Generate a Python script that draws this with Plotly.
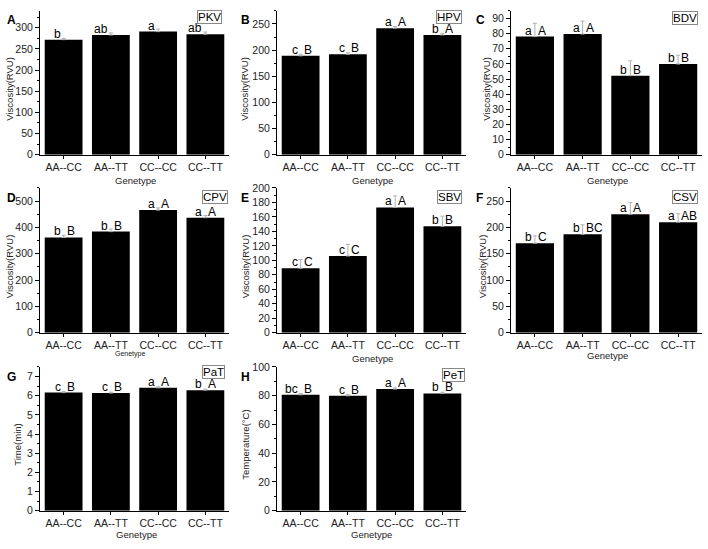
import plotly.graph_objects as go

W, H = 708, 549

genotypes = ["AA--CC", "AA--TT", "CC--CC", "CC--TT"]

pkv = [272, 283, 291, 285]
pkv_err = [3, 5, 6, 5]
pkv_low = ["b", "ab", "a", "ab"]
pkv_up = ["", "", "", ""]

hpv = [189, 192, 242, 229]
hpv_err = [3, 3, 3, 3]
hpv_low = ["c", "c", "a", "b"]
hpv_up = ["B", "B", "A", "A"]

bdv = [78, 79.7, 52.2, 59.9]
bdv_err = [8.8, 8.6, 9.8, 5.8]
bdv_low = ["a", "a", "b", "b"]
bdv_up = ["A", "A", "B", "B"]

cpv = [362, 384, 466, 437]
cpv_err = [8, 10, 8, 8]
cpv_low = ["b", "b", "a", "a"]
cpv_up = ["B", "B", "A", "A"]

sbv = [89, 106, 173, 147]
sbv_err = [12, 16, 16, 14]
sbv_low = ["c", "c", "a", "b"]
sbv_up = ["C", "C", "A", "B"]

csv = [170, 187, 225, 210]
csv_err = [14, 18, 22, 16]
csv_low = ["b", "b", "a", "a"]
csv_up = ["C", "BC", "A", "AB"]

pat = [6.16, 6.14, 6.41, 6.29]
pat_err = [0.05, 0.05, 0.05, 0.05]
pat_low = ["c", "c", "a", "b"]
pat_up = ["B", "B", "A", "A"]

pet = [80.6, 79.9, 84.6, 81.6]
pet_err = [0.8, 0.8, 0.8, 0.8]
pet_low = ["bc", "c", "a", "b"]
pet_up = ["B", "B", "A", "B"]

panels = [
    dict(letter="A", tag="PKV", v=pkv, e=pkv_err, lo=pkv_low, up=pkv_up, ytitle="Viscosity(RVU)",
         rng=340, dt=50, r=0, c=0, box=(222, 4), ytx=10, gx=(135, 178), gsize=9.5),
    dict(letter="B", tag="HPV", v=hpv, e=hpv_err, lo=hpv_low, up=hpv_up, ytitle="Viscosity(RVU)",
         rng=275, dt=50, r=0, c=1, box=(462, 4), ytx=245, gx=(372, 178), gsize=9.5),
    dict(letter="C", tag="BDV", v=bdv, e=bdv_err, lo=bdv_low, up=bdv_up, ytitle="Viscosity(RVU)",
         rng=95, dt=10, r=0, c=2, box=(698, 5), ytx=487, gx=(607, 178), gsize=9.5),
    dict(letter="D", tag="CPV", v=cpv, e=cpv_err, lo=cpv_low, up=cpv_up, ytitle="Viscosity(RVU)",
         rng=550, dt=100, r=1, c=0, box=(228, 188), ytx=9, gx=(130, 356), gsize=7),
    dict(letter="E", tag="SBV", v=sbv, e=sbv_err, lo=sbv_low, up=sbv_up, ytitle="Viscosity(RVU)",
         rng=200, dt=20, r=1, c=1, box=(462, 188), ytx=245, gx=(372, 360), gsize=9.5),
    dict(letter="F", tag="CSV", v=csv, e=csv_err, lo=csv_low, up=csv_up, ytitle="Viscosity(RVU)",
         rng=275, dt=50, r=1, c=2, box=(698, 188), ytx=482, gx=(607, 357), gsize=9.5),
    dict(letter="G", tag="PaT", v=pat, e=pat_err, lo=pat_low, up=pat_up, ytitle="Time(min)",
         rng=7.5, dt=1, r=2, c=0, box=(225, 367), ytx=18, gx=(136, 540), gsize=9.5),
    dict(letter="H", tag="PeT", v=pet, e=pet_err, lo=pet_low, up=pet_up, ytitle="Temperature(°C)",
         rng=100, dt=20, r=2, c=1, box=(465, 370), ytx=246, gx=(371, 540), gsize=9.5),
]

cols = [(40, 229), (277, 466), (511, 702)]
rows = [(5, 152), (186, 334), (369, 516)]
letter_pos = [(5, 6), (239, 6), (474, 6)]
row_letter_y = [6, 188, 371]

FONT = "Arial, Liberation Sans, sans-serif"
TXT = "#222222"

fig = go.Figure()
annotations = []
layout = dict(
    width=W, height=H, margin=dict(l=0, r=0, t=0, b=0),
    paper_bgcolor="white", plot_bgcolor="white", showlegend=False,
    font=dict(family=FONT, color=TXT),
)

def px(x):
    return x / W

def py(y):
    return 1 - y / H

for i, p in enumerate(panels):
    n = i + 1
    xa = "x" if n == 1 else f"x{n}"
    ya = "y" if n == 1 else f"y{n}"
    x0, x1 = cols[p["c"]]
    y0, y1 = rows[p["r"]]
    fig.add_trace(go.Bar(
        x=genotypes, y=p["v"], xaxis=xa, yaxis=ya,
        marker=dict(color="black", line=dict(width=0)), width=0.8,
        error_y=dict(type="data", array=p["e"], arrayminus=[0] * 4, symmetric=False,
                     color="#b0b0b0", thickness=1, width=2),
    ))
    layout["xaxis" if n == 1 else f"xaxis{n}"] = dict(
        domain=[px(x0), px(x1)], anchor=ya, type="category", range=[-0.5, 3.5],
        showline=True, linecolor="black", linewidth=1, showgrid=False, zeroline=False,
        ticks="outside", ticklen=3, tickcolor="black",
        tickfont=dict(size=10.5, color=TXT, family=FONT),
    )
    layout["yaxis" if n == 1 else f"yaxis{n}"] = dict(
        domain=[py(y1), py(y0)], anchor=xa, range=[0, p["rng"]], dtick=p["dt"],
        showline=True, linecolor="black", linewidth=1, showgrid=False, zeroline=False,
        ticks="outside", ticklen=4, tickcolor="black",
        minor=dict(ticks="outside", ticklen=2, tickcolor="black", dtick=p["dt"] / 2),
        tickfont=dict(size=10.5, color=TXT, family=FONT),
    )
    lx, _ = letter_pos[p["c"]]
    annotations.append(dict(text=f"<b>{p['letter']}</b>", x=px(lx), y=py(row_letter_y[p["r"]] - 1),
                            xref="paper", yref="paper", xanchor="left", yanchor="top",
                            showarrow=False, font=dict(size=12, color="black", family=FONT)))
    bx, by = p["box"]
    annotations.append(dict(text=p["tag"], x=px(bx), y=py(by), xref="paper", yref="paper",
                            xanchor="right", yanchor="top", showarrow=False,
                            bordercolor="#888888", borderwidth=1, borderpad=0, bgcolor="white",
                            font=dict(size=11.5, color="black", family=FONT)))
    annotations.append(dict(text=p["ytitle"], x=px(p["ytx"]), y=py((y0 + y1) / 2 + 6),
                            xref="paper", yref="paper", xanchor="center", yanchor="middle",
                            textangle=-90, showarrow=False,
                            font=dict(size=9.5, color=TXT, family=FONT)))
    gx, gy = p["gx"]
    annotations.append(dict(text="Genetype", x=px(gx), y=py(gy), xref="paper", yref="paper",
                            xanchor="center", yanchor="middle", showarrow=False,
                            font=dict(size=p["gsize"], color=TXT, family=FONT)))
    for k, g in enumerate(genotypes):
        if p["lo"][k]:
            annotations.append(dict(text=p["lo"][k], x=g, y=p["v"][k], xref=xa, yref=ya,
                                    xanchor="right", yanchor="bottom", xshift=-1, yshift=-3,
                                    showarrow=False, font=dict(size=12, color="black", family=FONT)))
        if p["up"][k]:
            annotations.append(dict(text=p["up"][k], x=g, y=p["v"][k], xref=xa, yref=ya,
                                    xanchor="left", yanchor="bottom", xshift=1, yshift=-3,
                                    showarrow=False, font=dict(size=12, color="black", family=FONT)))

layout["annotations"] = annotations
fig.update_layout(**layout)
fig.write_html("out.html", config={"displayModeBar": False},
               post_script="document.body.style.margin='0px';document.body.style.overflow='hidden';")
